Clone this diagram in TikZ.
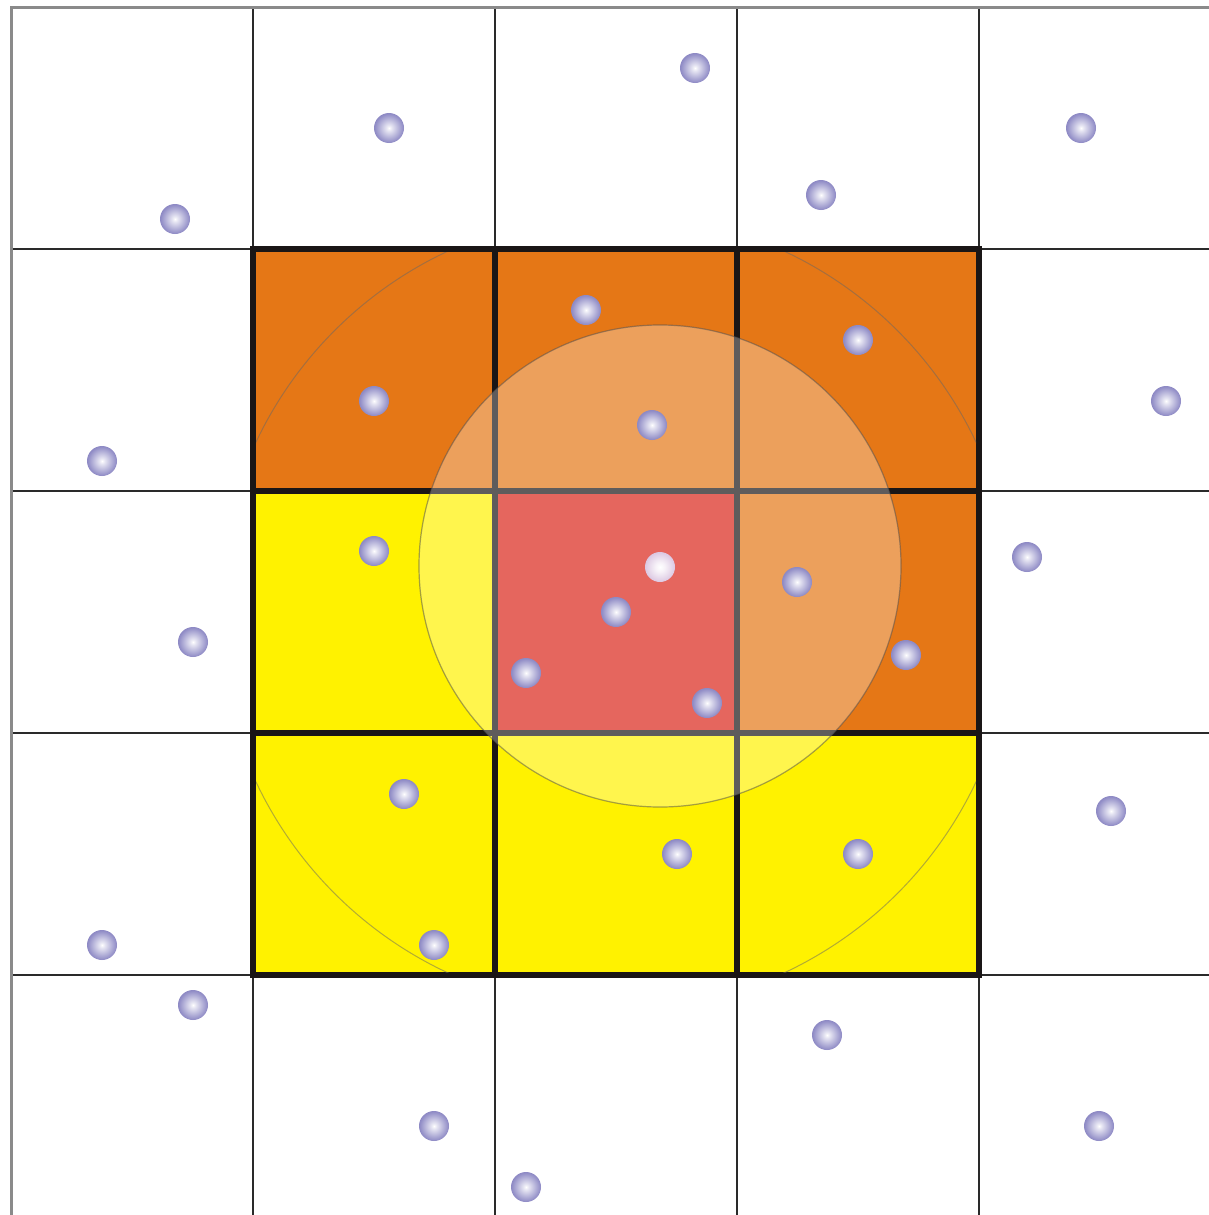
\documentclass[tikz,border=0pt]{standalone}
\usetikzlibrary{calc}
\definecolor{cellorange}{HTML}{E57716}
\definecolor{cellyellow}{HTML}{FFF200}
\definecolor{cellred}{HTML}{DA2419}
\definecolor{sphmid}{HTML}{908CC6}
\definecolor{sphedge}{HTML}{6E68AC}
\definecolor{pinkmid}{HTML}{D4BCDC}
\definecolor{pinkedge}{HTML}{B8A0D0}
\definecolor{gridouter}{HTML}{8A8A8A}
\definecolor{gridinner}{HTML}{2A2A2A}
\definecolor{blockline}{HTML}{1A1616}
\pgfdeclareradialshading{sphshade}{\pgfpoint{0bp}{0bp}}{color(0bp)=(white); color(4bp)=(white!80!sphmid); color(24bp)=(sphmid); color(44bp)=(sphedge); color(50bp)=(sphedge)}
\pgfdeclareradialshading{pinkshade}{\pgfpoint{0bp}{0bp}}{color(0bp)=(white); color(8bp)=(white!80!pinkmid); color(30bp)=(pinkmid); color(46bp)=(pinkedge); color(50bp)=(pinkedge)}
\tikzset{
  thingrid/.style={draw=gridinner, line width=1pt},
  outergrid/.style={draw=gridouter, line width=1.5pt},
  blockgrid/.style={draw=blockline, line width=3pt, line cap=rect},
  particle/.style={shading=sphshade},
  specialparticle/.style={shading=pinkshade},
  bigring/.style={draw=black!60, line width=0.5pt, draw opacity=0.5},
  cutoff/.style={fill=white, fill opacity=0.3, draw=black!70, draw opacity=0.5, line width=0.6pt}
}
\begin{document}
\begin{tikzpicture}[x=0.5pt, y=-0.5pt]
\useasboundingbox (0,0) rectangle (1209,1215);
\fill[white] (0,0) rectangle (1209,1215);
% cell fills
\fill[cellorange] (253,249) rectangle (979,491);
\fill[cellyellow] (253,491) rectangle (495,733);
\fill[cellred] (495,491) rectangle (737,733);
\fill[cellorange] (737,491) rectangle (979,733);
\fill[cellyellow] (253,733) rectangle (979,975);
% thin grid
\foreach \x in {253,495,737,979} \draw[thingrid] (\x,7) -- (\x,1215);
\foreach \y in {249,491,733,975} \draw[thingrid] (11,\y) -- (1209,\y);
\draw[outergrid] (11,1215) -- (11,7) -- (1209,7);
% thick block lines
\foreach \x in {253,495,737,979} \draw[blockgrid] (\x,249) -- (\x,975);
\foreach \y in {249,491,733,975} \draw[blockgrid] (253,\y) -- (979,\y);
% faint large ring clipped to block
\begin{scope}
\clip (256,252) rectangle (976,972);
\draw[bigring] (616,612) circle [radius=398];
\end{scope}
% cut-off sphere
\draw[cutoff] (660,566) circle [radius=241];
% particles
\foreach \px/\py in {175/219, 389/128, 695/68, 821/195, 1081/128, 102/461, 374/401, 586/310, 858/340, 652/425, 1166/401, 374/551, 193/642, 616/612, 526/673, 707/703, 797/582, 906/655, 1027/557, 404/794, 677/854, 858/854, 1111/811, 102/945, 434/945, 193/1005, 827/1035, 434/1126, 526/1187, 1099/1126}
  \shade[particle] (\px,\py) circle [radius=15];
\shade[specialparticle] (660,567) circle [radius=15];
\end{tikzpicture}
\end{document}
